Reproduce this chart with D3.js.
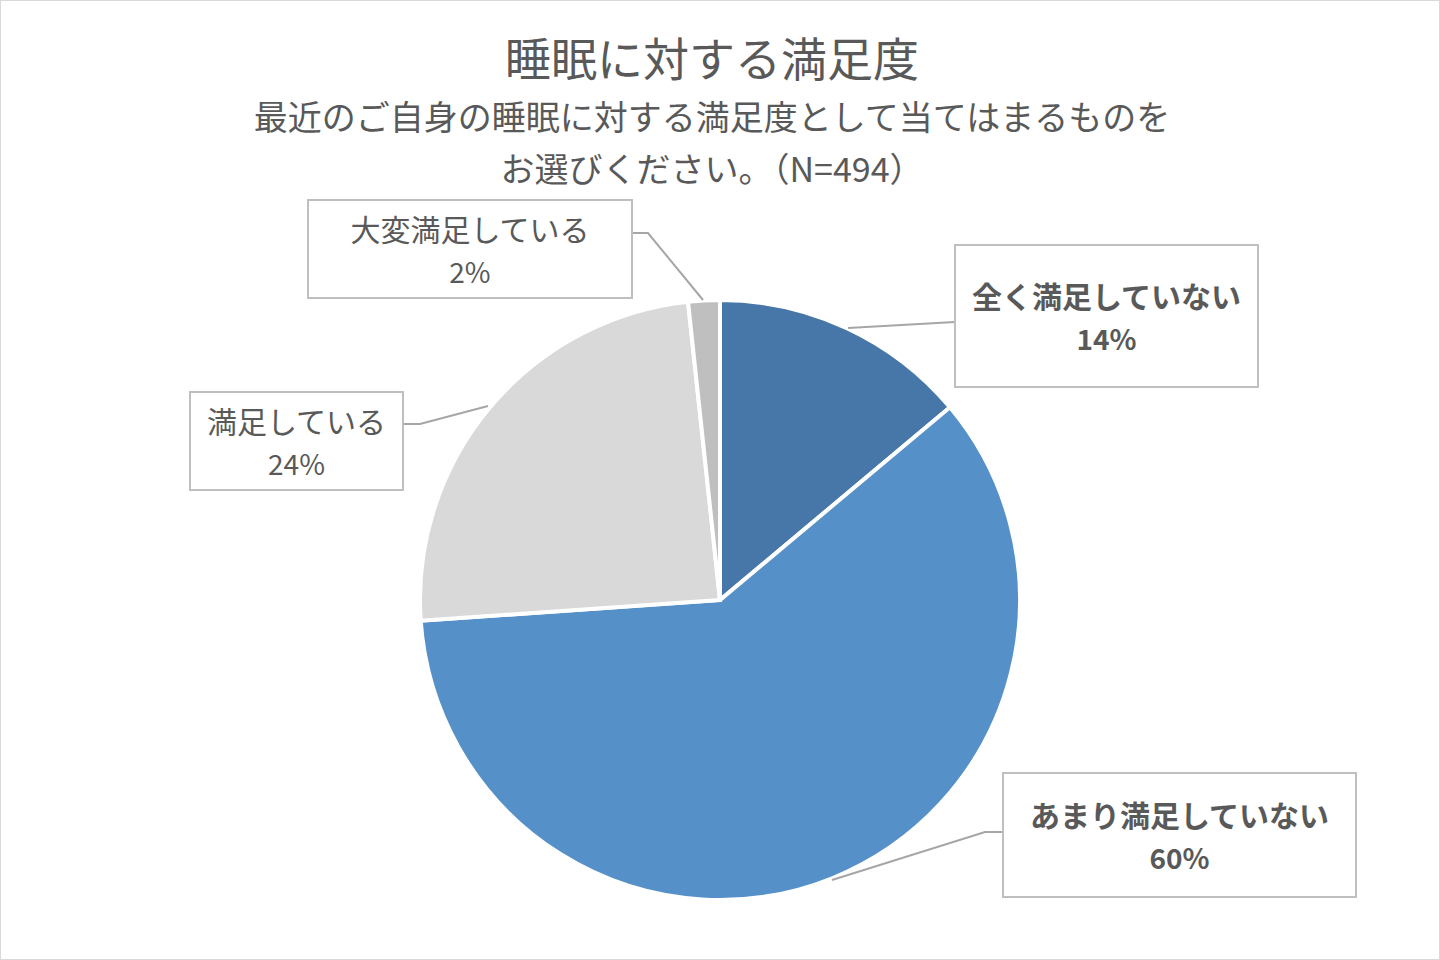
<!DOCTYPE html>
<html><head><meta charset="utf-8">
<script src="https://cdn.jsdelivr.net/npm/d3@7"></script>
<style>body{margin:0;background:#fff}text{font-family:"Noto Sans CJK JP","Noto Sans",sans-serif;fill:#595959}</style>
</head><body><svg id="c" width="1440" height="960"></svg>
<script>
const categories = ["全く満足していない", "あまり満足していない", "満足している", "大変満足している"];
const values = [13.9, 60.0, 24.4, 1.7];
const pctLabels = ["14%", "60%", "24%", "2%"];
const colors = ["#4677A8", "#5591C8", "#D9D9D9", "#BFBFBF"];
const boldLabel = [true, true, false, false];
// label boxes [x, y, w, h] and leader polylines
const boxes = [[955,245,303,142],[1003,773,353,124],[190,392,213,98],[308,200,324,98]];
const leaders = [[[955,322],[848,328]],[[1003,832],[985,832],[832,880]],[[403,424],[420,424],[488,406]],[[632,233],[648,233],[703,300]]];

const svg = d3.select("#c");
svg.append("rect").attr("x",0.5).attr("y",0.5).attr("width",1439).attr("height",959).attr("fill","#fff").attr("stroke","#D9D9D9");

svg.append("text").attr("x",712).attr("y",76).attr("text-anchor","middle").attr("font-size",46).text("睡眠に対する満足度");
svg.append("text").attr("x",712).attr("y",130).attr("text-anchor","middle").attr("font-size",34).text("最近のご自身の睡眠に対する満足度として当てはまるものを");
svg.append("text").attr("x",712).attr("y",182).attr("text-anchor","middle").attr("font-size",34).text("お選びください。（N=494）");

const pie = d3.pie().sort(null).value(d => d);
const arc = d3.arc().innerRadius(0).outerRadius(300);
const g = svg.append("g").attr("transform","translate(720,600)");
g.selectAll("path").data(pie(values)).join("path")
  .attr("d", arc).attr("fill", (d,i) => colors[i]).attr("stroke","#fff").attr("stroke-width",4);

const line = d3.line();
leaders.forEach(p => svg.append("path").attr("d", line(p)).attr("fill","none").attr("stroke","#A6A6A6").attr("stroke-width",2));

boxes.forEach((b,i) => {
  svg.append("rect").attr("x",b[0]).attr("y",b[1]).attr("width",b[2]).attr("height",b[3])
    .attr("fill","#fff").attr("stroke","#BFBFBF").attr("stroke-width",2);
  const cx = b[0] + b[2]/2, cy = b[1] + b[3]/2;
  const fw = boldLabel[i] ? "bold" : "normal";
  svg.append("text").attr("x",cx).attr("y",cy-8).attr("text-anchor","middle").attr("font-size",30).attr("font-weight",fw).text(categories[i]);
  svg.append("text").attr("x",cx).attr("y",cy+34).attr("text-anchor","middle").attr("font-size",28).attr("font-weight",fw).text(pctLabels[i]);
});
</script></body></html>
